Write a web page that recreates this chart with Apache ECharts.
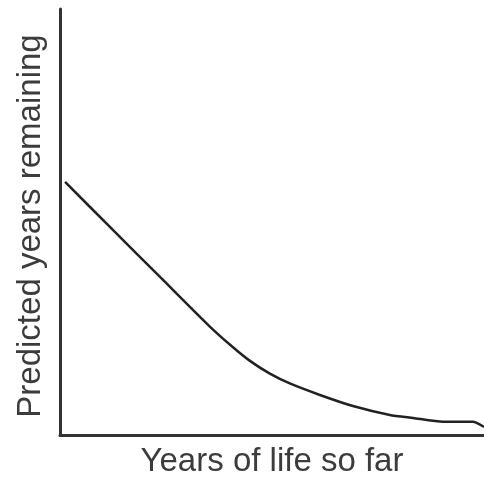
<!DOCTYPE html>
<html>
<head>
<meta charset="utf-8">
<script src="https://cdn.jsdelivr.net/npm/echarts@6/dist/echarts.min.js"></script>
<style>
html,body{margin:0;padding:0;background:#fff;}
#chart{width:484px;height:485px;}
</style>
</head>
<body>
<div id="chart"></div>
<script>
// Data (arbitrary units, 0-100 on both axes)
const yearsSoFar = [1.2, 12, 24, 35.4, 40.8, 44.8, 49.5, 54.2, 61.3, 69.1, 77.8, 83.3, 90.3, 97.4, 100];
const yearsRemaining = [59.4, 48.6, 36.7, 25.4, 20.6, 17.4, 14.4, 12.1, 9.4, 6.8, 4.7, 4.0, 3.1, 3.1, 1.9];
const xAxisTitle = 'Years of life so far';
const yAxisTitle = 'Predicted years remaining';

const seriesData = yearsSoFar.map((x, i) => [x, yearsRemaining[i]]);

const chart = echarts.init(document.getElementById('chart'), null, {renderer: 'canvas'});
const axisColor = '#333';
const textStyle = {fontFamily: 'Liberation Sans', fontSize: 33, color: '#3c3c3c'};
chart.setOption({
  animation: false,
  backgroundColor: '#fff',
  grid: {left: 60, right: 0, top: 9, bottom: 50, containLabel: false},
  xAxis: {
    type: 'value', min: 0, max: 100,
    name: xAxisTitle, nameLocation: 'middle', nameGap: 10,
    nameTextStyle: textStyle,
    axisLine: {show: true, lineStyle: {color: axisColor, width: 3}},
    axisTick: {show: false}, axisLabel: {show: false}, splitLine: {show: false}
  },
  yAxis: {
    type: 'value', min: 0, max: 100,
    name: yAxisTitle, nameLocation: 'middle', nameGap: 13, nameRotate: 90,
    nameTextStyle: Object.assign({}, textStyle, {padding: [0, 8, 0, 0]}),
    axisLine: {show: true, lineStyle: {color: axisColor, width: 3}},
    axisTick: {show: false}, axisLabel: {show: false}, splitLine: {show: false}
  },
  series: [{
    type: 'line',
    data: seriesData,
    smooth: 0.2,
    showSymbol: false,
    lineStyle: {color: '#222', width: 2.5},
    clip: false
  }]
});
</script>
</body>
</html>
